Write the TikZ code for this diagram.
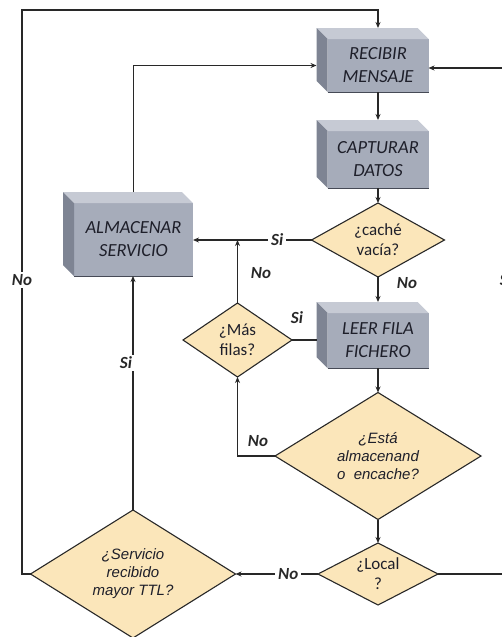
\documentclass[tikz,border=0pt]{standalone}
\usepackage{fontspec}
\setmainfont{Carlito}
\newfontfamily\arialf{Liberation Sans}
\usetikzlibrary{shapes.geometric,arrows.meta}
\definecolor{boxfront}{RGB}{166,172,186}
\definecolor{boxtop}{RGB}{198,202,212}
\definecolor{boxside}{RGB}{126,132,147}
\definecolor{boxedge}{RGB}{70,74,86}
\definecolor{dfill}{RGB}{251,230,186}
\definecolor{ln}{RGB}{40,40,40}
\definecolor{tx}{RGB}{30,31,42}
\tikzset{
 cube/.style={rectangle, fill=boxfront, inner sep=0pt, outer sep=0pt, align=center, text=tx, font=\fontsize{18.5}{23}\selectfont\itshape},
 dia/.style={diamond, draw=ln, line width=1.1pt, fill=dfill, inner sep=0pt, outer sep=0pt, align=center, text=tx},
 calf/.style={font=\fontsize{17}{20}\selectfont},
 arf/.style={font=\arialf\fontsize{15}{18}\selectfont\itshape},
 conn/.style={draw=ln, line width=1.4pt},
 arr/.style={conn, -{Stealth[length=6pt,width=5pt]}},
 lbl/.style={font=\fontsize{17}{20}\selectfont\bfseries\itshape, text=ln, inner sep=1pt},
 lblw/.style={lbl, fill=white, inner xsep=3pt, inner ysep=2pt},
}
\newcommand\cubebevel[1]{%
 \fill[boxtop] (#1.north west) -- ([shift={(-11pt,11pt)}]#1.north west) -- ([shift={(-11pt,11pt)}]#1.north east) -- (#1.north east) -- cycle;
 \fill[boxside] (#1.north west) -- ([shift={(-11pt,11pt)}]#1.north west) -- ([shift={(-11pt,11pt)}]#1.south west) -- (#1.south west) -- cycle;
 \draw[boxedge, line width=1pt] (#1.south west) -- (#1.south east);
}
\begin{document}
\begin{tikzpicture}[x=1pt,y=-1pt]
\useasboundingbox (0,0) rectangle (502,637);
% boxes
\node[cube, minimum width=101pt, minimum height=53pt] (recibir) at (378,65.5) {RECIBIR\\MENSAJE};
\node[cube, minimum width=101pt, minimum height=57pt] (capturar) at (378,159.5) {CAPTURAR\\DATOS};
\node[cube, minimum width=101pt, minimum height=55pt] (leer) at (378,340.5) {LEER FILA\\FICHERO};
\node[cube, minimum width=119pt, minimum height=73pt] (almacenar) at (133.5,239.5) {ALMACENAR\\SERVICIO};
\cubebevel{recibir}
\cubebevel{capturar}
\cubebevel{leer}
\cubebevel{almacenar}
% diamonds
\node[dia, calf, minimum width=133pt, minimum height=74pt, shape aspect=1.8] (cache) at (378,240) {¿caché\\vacía?};
\node[dia, calf, minimum width=109pt, minimum height=74pt, shape aspect=1.47] (mas) at (237.5,340) {¿Más\\filas?};
\node[dia, arf, minimum width=206pt, minimum height=127pt, shape aspect=1.62] (esta) at (378,456) {¿Está\\almacenand\\o~ encache?};
\node[dia, calf, minimum width=120pt, minimum height=62pt, shape aspect=1.94] (local) at (378,574) {¿Local\\?};
\node[dia, arf, minimum width=205pt, minimum height=128pt, shape aspect=1.6] (ttl) at (133,574) {¿Servicio\\recibido\\mayor TTL?};
% coordinates
\coordinate (lc) at (22,10);
\coordinate (rc) at (507,68);
% connectors
\draw[arr] ([yshift=11pt]almacenar.north) |- ([xshift=-11pt]recibir.west);
\draw[arr] (recibir.south) -- ([yshift=11pt]capturar.north);
\draw[arr] (capturar.south) -- (cache.north);
\draw[arr] (cache.west) -- (almacenar.east |- cache.west) node[lblw, pos=0.29] (lsi1) {Si};
\draw[arr] (mas.north) -- (mas.north |- cache.west);
\draw[arr] (cache.south) -- ([yshift=11pt]leer.north);
\draw[conn] (mas.east) -- ([xshift=-11pt]leer.west |- mas.east);
\draw[arr] (leer.south) -- (esta.north);
\draw[arr] (esta.west) -| (mas.south);
\draw[arr] (esta.south) -- (local.north);
\draw[arr] (local.west) -- (ttl.east) node[lblw, pos=0.36] (lno5) {No};
\draw[arr] (ttl.north) -- (ttl.north |- almacenar.south);
\draw[arr] (ttl.west) -| (lc) -| ([yshift=11pt]recibir.north);
\draw[arr] (local.east) -| (rc) -- (recibir.east |- rc);
% labels
\node[lbl] (lno1) at (261,273) {No};
\node[lbl] (lno2) at (407,283) {No};
\node[lbl] (lsi2) at (297,318) {Si};
\node[lbl] (lno3) at (258,441) {No};
\node[lblw] (lsi3) at (126,363) {Si};
\node[lblw] (lno4) at (22,280) {No};
\node[lblw] (lsi4) at (506,280) {Si};
\end{tikzpicture}
\end{document}
